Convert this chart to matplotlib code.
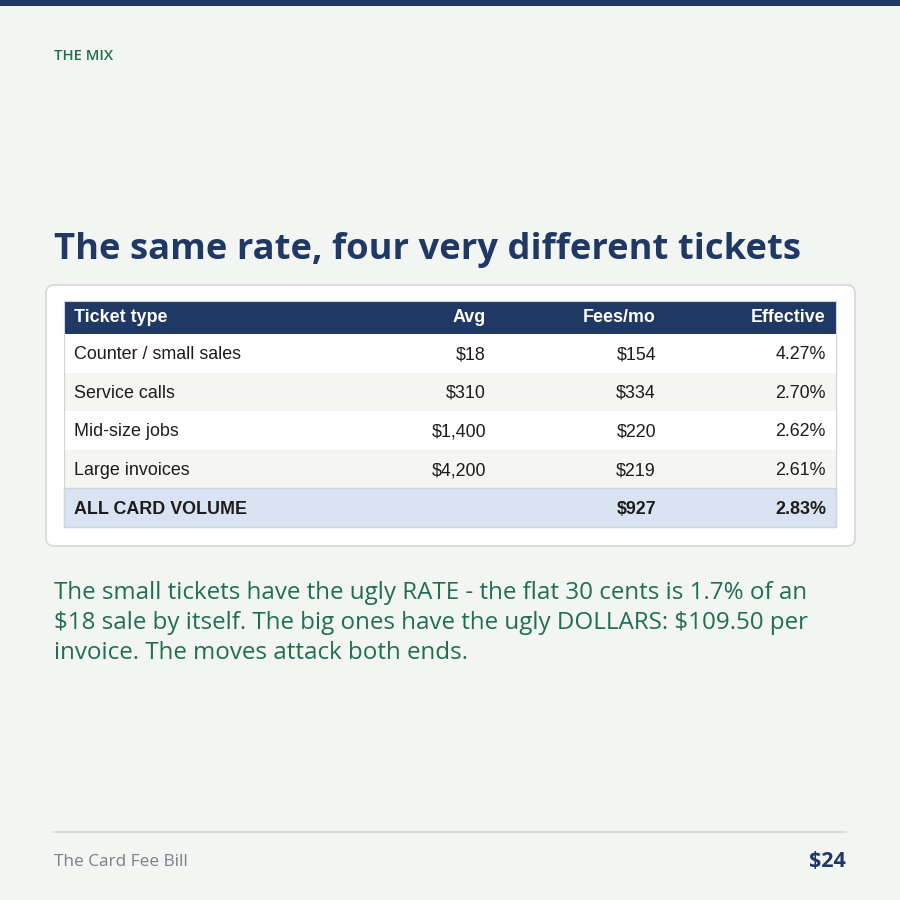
import matplotlib
matplotlib.use("Agg")
import matplotlib.pyplot as plt
from matplotlib.patches import Rectangle, FancyBboxPatch

# ---- data ----
ticket_types = ["Counter / small sales", "Service calls", "Mid-size jobs", "Large invoices"]
avg_ticket = [18, 310, 1400, 4200]
fees_mo = [154, 334, 220, 219]
effective = [4.27, 2.70, 2.62, 2.61]
total_label = "ALL CARD VOLUME"
total_fees = 927
total_effective = 2.83
headers = ["Ticket type", "Avg", "Fees/mo", "Effective"]

kicker = "THE MIX"
title = "The same rate, four very different tickets"
para = ["The small tickets have the ugly RATE - the flat 30 cents is 1.7% of an",
        "$18 sale by itself. The big ones have the ugly DOLLARS: $109.50 per",
        "invoice. The moves attack both ends."]
footer_left = "The Card Fee Bill"
footer_right = "$24"

NAVY = "#1f3864"
GREEN = "#1f6e55"
BG = "#f3f5f2"

fig = plt.figure(figsize=(9, 9), dpi=100)
fig.patch.set_facecolor(BG)
ax = fig.add_axes([0, 0, 1, 1])
ax.set_xlim(0, 900)
ax.set_ylim(900, 0)
ax.axis("off")
renderer = fig.canvas.get_renderer()


def txt(x, y, s, **kw):
    kw.setdefault("parse_math", False)
    return ax.text(x, y, s, **kw)


def fit_text(x, y, s, width, ha="left", va="baseline", **kw):
    t = txt(x, y, s, ha=ha, va=va, fontsize=10, **kw)
    bb = t.get_window_extent(renderer=renderer)
    t.set_fontsize(10 * width / bb.width)
    return t

# top bar
ax.add_patch(Rectangle((0, 0), 900, 6, color=NAVY, lw=0))

fit_text(54, 60, kicker, 59, color=GREEN, family="Open Sans", fontweight="semibold")
fit_text(54, 259, title, 749, color=NAVY, family="Open Sans", fontweight="bold")

# card
ax.add_patch(FancyBboxPatch((46, 285), 809, 261, boxstyle="round,pad=0,rounding_size=8",
                            facecolor="white", edgecolor="#d6d8d6", lw=1.2))

# table
x0, x1 = 64, 836
hdr_top, hdr_bot = 301, 334
row_h = 38.6
ax.add_patch(Rectangle((x0, hdr_top), x1 - x0, hdr_bot - hdr_top, color=NAVY, lw=0))
col_x = [74, 486, 656, 826]
col_ha = ["left", "right", "right", "right"]
tfont = "Liberation Sans"
fs_tab = 12.9
for h, cx, ha in zip(headers, col_x, col_ha):
    txt(cx, (hdr_top + hdr_bot) / 2 + 0.5, h, ha=ha, va="center", color="white",
        fontsize=fs_tab, family=tfont, fontweight="bold")

for i, (name, a, f, e) in enumerate(zip(ticket_types, avg_ticket, fees_mo, effective)):
    top = hdr_bot + i * row_h
    ax.add_patch(Rectangle((x0, top), x1 - x0, row_h,
                           color=("white" if i % 2 == 0 else "#f5f5f2"), lw=0))
    yc = top + row_h / 2
    vals = [name, f"${a:,}", f"${f:,}", f"{e:.2f}%"]
    for v, cx, ha in zip(vals, col_x, col_ha):
        txt(cx, yc + 6, v, ha=ha, va="baseline", color="#1c1c1c", fontsize=fs_tab, family=tfont)

top = hdr_bot + len(ticket_types) * row_h
ax.add_patch(Rectangle((x0, top), x1 - x0, row_h, facecolor="#dae3f2", edgecolor="#c9d2df", lw=1))
yc = top + row_h / 2
for v, cx, ha in zip([total_label, "", f"${total_fees:,}", f"{total_effective:.2f}%"], col_x, col_ha):
    txt(cx, yc + 6, v, ha=ha, va="baseline", color="#1c1c1c", fontsize=fs_tab,
        family=tfont, fontweight="bold")
ax.add_patch(Rectangle((x0, hdr_top), x1 - x0, top + row_h - hdr_top,
                       facecolor="none", edgecolor="#d0d4d8", lw=0.8))

# paragraph
t0 = fit_text(54, 599, para[0], 752, color=GREEN, family="Open Sans", fontweight="medium")
fsp = t0.get_fontsize()
for k, line in enumerate(para[1:], start=1):
    txt(54, 599 + 30 * k, line, ha="left", va="baseline", color=GREEN,
        fontsize=fsp, family="Open Sans", fontweight="medium")

# footer
ax.plot([54, 846], [832, 832], color="#d6d9d6", lw=1.2)
fit_text(54, 866, footer_left, 134, color="#7b8089", family="Open Sans")
fit_text(846, 867, footer_right, 37, ha="right", color=NAVY, family="Open Sans", fontweight="bold")

fig.savefig("out.png", dpi=100, facecolor=BG)
